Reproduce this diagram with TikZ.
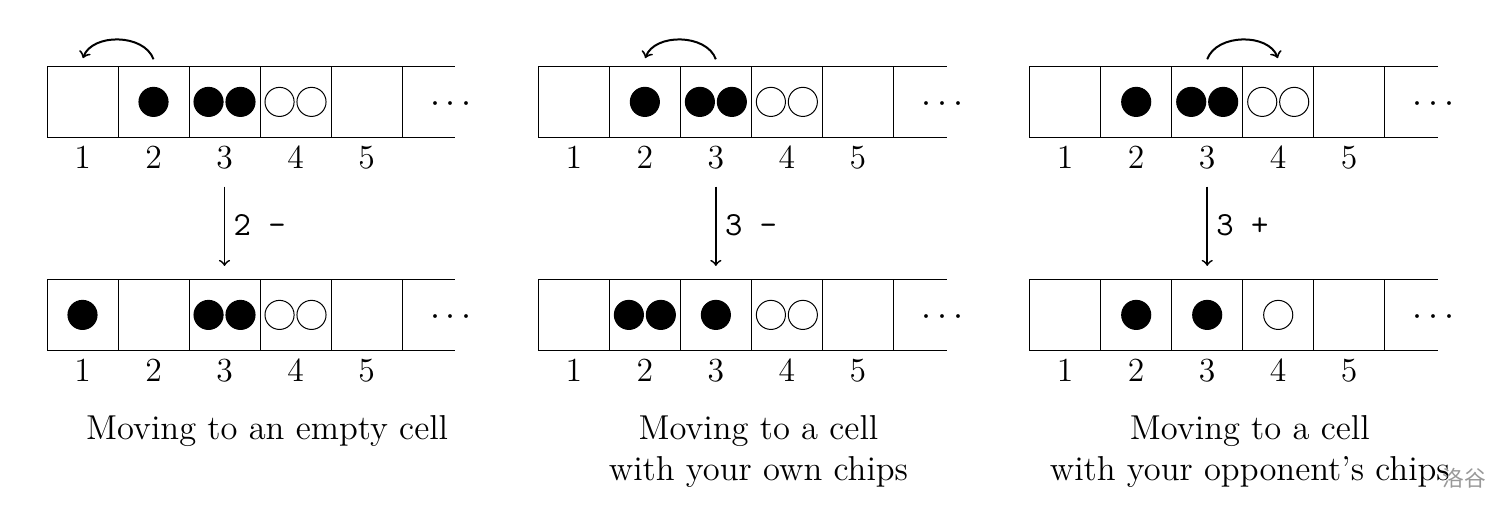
\documentclass[tikz,border=0pt]{standalone}
\usepackage{fontspec}
\newfontfamily\cjkfont{Noto Sans CJK SC}
\usetikzlibrary{positioning}
\newcommand\startchips{2/black/0,3/black/-2.25,3/black/2.25,4/white/-2.25,4/white/2.25}
\begin{document}
\begin{tikzpicture}[font=\fontsize{13.5}{16.8}\selectfont,
	cell/.style={draw,minimum size=1cm,inner sep=0,outer sep=0},
	chip/.style={circle,draw,minimum size=4.1mm,inner sep=0},
	hop/.style={->,thick,shorten >=0.5pt},
	turn/.style={->,line width=0.7pt,shorten <=1.2mm,shorten >=1.9mm},
	caption/.style={anchor=north,align=center,font=\fontsize{13.85}{16.3}\selectfont}]
\useasboundingbox (0,0) rectangle (21.21,7.21);
\foreach \p/\src/\dst/\bnd/\lbl/\endchips/\txt in {
	1/2/1/-70/{2 -}/{1/black/0,3/black/-2.25,3/black/2.25,4/white/-2.25,4/white/2.25}/{Moving to an empty cell},
	2/3/2/-70/{3 -}/{2/black/-2.25,2/black/2.25,3/black/0,4/white/-2.25,4/white/2.25}/{Moving to a cell\\with your own chips},
	3/3/4/70/{3 +}/{2/black/0,3/black/0,4/white/0}/{Moving to a cell\\with your opponent's chips}}
{
\begin{scope}[xshift={(\p-1)*6.92cm+0.662cm}]
	% the two rows of cells
	\foreach \n in {1,...,5} {
		\node[cell] (t\p\n) at (\n-0.5,5.775) {};
		\node[below=0pt of t\p\n] (tn\p\n) {\n};
		\node[cell] (b\p\n) at (\n-0.5,2.775) {};
		\node[below=0pt of b\p\n] (bn\p\n) {\n};
	}
	\coordinate (tne\p) at ([xshift=7.5mm]t\p5.north east);
	\coordinate (tse\p) at ([xshift=7.5mm]t\p5.south east);
	\coordinate (bne\p) at ([xshift=7.5mm]b\p5.north east);
	\coordinate (bse\p) at ([xshift=7.5mm]b\p5.south east);
	\draw (t\p5.north east) -- (tne\p) (t\p5.south east) -- (tse\p);
	\draw (b\p5.north east) -- (bne\p) (b\p5.south east) -- (bse\p);
	\node (td\p) at ([xshift=6.9mm,yshift=-0.4mm]t\p5.east) {$\cdots$};
	\node (bd\p) at ([xshift=6.9mm,yshift=-0.4mm]b\p5.east) {$\cdots$};
	% chips
	\foreach \cl/\col/\dx [count=\j] in \startchips
		\node[chip,fill=\col] (tc\p-\j) at ([xshift=\dx mm]t\p\cl) {};
	\foreach \cl/\col/\dx [count=\j] in \endchips
		\node[chip,fill=\col] (bc\p-\j) at ([xshift=\dx mm]b\p\cl) {};
	% the move
	\draw[hop] ([yshift=1mm]t\p\src.north) to[bend left=\bnd] ([yshift=1mm]t\p\dst.north);
	\draw[turn] (tn\p3) -- (b\p3) node[midway,right,yshift=0.5mm] {\texttt{\lbl}};
	\node[caption] (cap\p) at (3.1,1.48) {\txt};
\end{scope}
}
\node[text=black!40,font=\cjkfont\fontsize{8.7}{8.7}\selectfont] (mark) at (20.62,0.48) {洛谷};
\end{tikzpicture}
\end{document}
